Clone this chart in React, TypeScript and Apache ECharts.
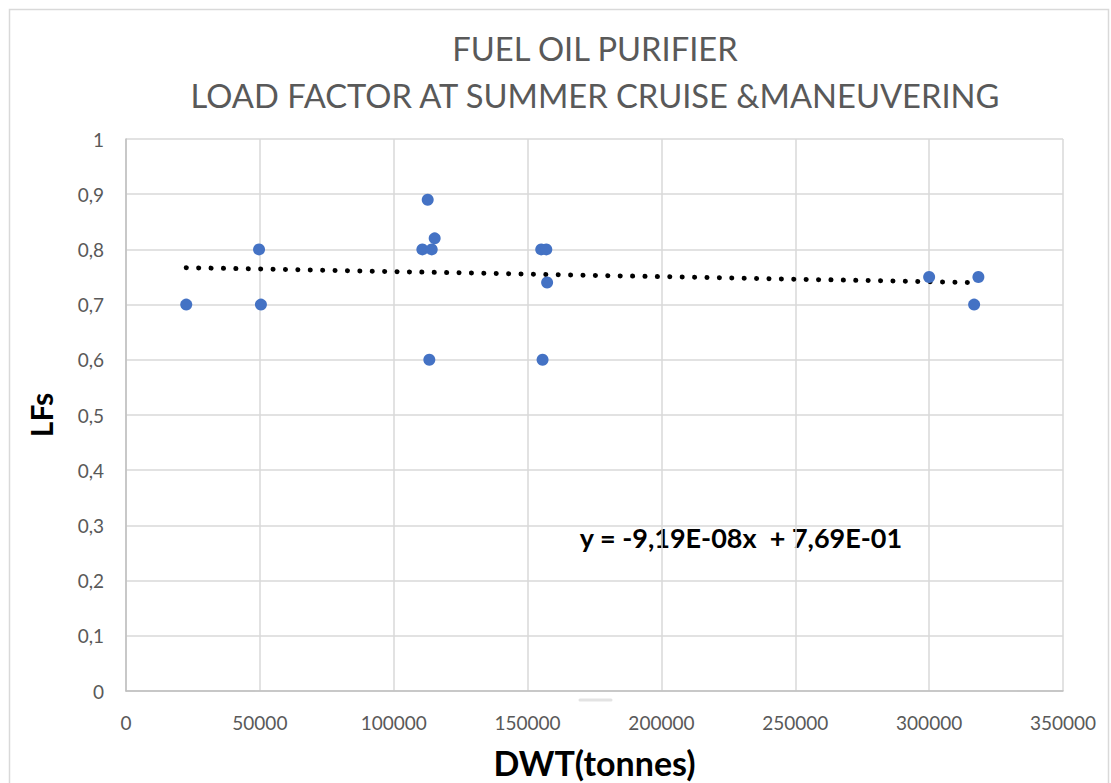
import React, { useEffect, useRef } from "react";
import * as echarts from "echarts";

const titleLines = ["FUEL OIL PURIFIER", "LOAD FACTOR AT SUMMER CRUISE &MANEUVERING"];
const xAxisName = "DWT(tonnes)";
const yAxisName = "LFs";

// DWT (tonnes) and load factor of each ship
const dwt = [22500, 49700, 50400, 110700, 112700, 113300, 114200, 115300, 155100, 155600, 157000, 157300, 300000, 316800, 318400];
const lf = [0.7, 0.8, 0.7, 0.8, 0.89, 0.6, 0.8, 0.82, 0.8, 0.6, 0.8, 0.74, 0.75, 0.7, 0.75];

const trendSlope = -9.19e-8;
const trendIntercept = 0.769;
const equationText = "y = -9,19E-08x  + 7,69E-01";

const FONT = "Lato, 'Open Sans', sans-serif";

export default function App() {
  const ref = useRef<HTMLDivElement>(null);
  useEffect(() => {
    if (!ref.current) return;
    const chart = echarts.init(ref.current, undefined, { renderer: "svg" });
    const points = dwt.map((x, i) => [x, lf[i]]);
    const xMin = Math.min(...dwt);
    const xMax = Math.max(...dwt);
    const trend = [
      [xMin, trendSlope * xMin + trendIntercept],
      [xMax, trendSlope * xMax + trendIntercept],
    ];
    chart.setOption({
      animation: false,
      backgroundColor: "#ffffff",
      textStyle: { fontFamily: FONT },
      grid: {
        left: 126,
        right: 48,
        top: 139,
        bottom: 92,
        containLabel: false,
        outerBoundsMode: "none",
      },
      xAxis: {
        type: "value",
        min: 0,
        max: 350000,
        interval: 50000,
        name: xAxisName,
        nameLocation: "middle",
        nameGap: 54,
        nameTextStyle: { fontSize: 34, fontWeight: "bold", color: "#000000", fontFamily: FONT },
        axisLine: { show: true, lineStyle: { color: "#bfbfbf", width: 1.5 } },
        axisTick: { show: false },
        axisLabel: {
          fontSize: 19,
          color: "#595959",
          margin: 22,
          fontFamily: FONT,
          formatter: (v: number) => String(v),
        },
        splitLine: { show: true, lineStyle: { color: "#d9d9d9", width: 1.5 } },
      },
      yAxis: {
        type: "value",
        min: 0,
        max: 1,
        interval: 0.1,
        name: yAxisName,
        nameLocation: "middle",
        nameRotate: 90,
        nameGap: 70,
        nameTextStyle: { fontSize: 30, fontWeight: "bold", color: "#000000", fontFamily: FONT },
        axisLine: { show: true, lineStyle: { color: "#bfbfbf", width: 1.5 } },
        axisTick: { show: false },
        axisLabel: {
          fontSize: 19,
          color: "#595959",
          margin: 22,
          fontFamily: FONT,
          formatter: (v: number) => String(Math.round(v * 10) / 10).replace(".", ","),
        },
        splitLine: { show: true, lineStyle: { color: "#d9d9d9", width: 1.5 } },
      },
      series: [
        {
          type: "line",
          data: trend,
          showSymbol: false,
          symbol: "none",
          lineStyle: { color: "#000000", width: 5, type: [0.1, 12.3], cap: "round" },
          z: 3,
        },
        {
          type: "scatter",
          data: points,
          symbol: "circle",
          symbolSize: 12,
          itemStyle: { color: "#4472C4", opacity: 1 },
          z: 4,
        },
      ],
      graphic: [
        {
          type: "rect",
          shape: { x: 9.5, y: 9.5, width: 1099, height: 820 },
          style: { fill: "none", stroke: "#d9d9d9", lineWidth: 1.5 },
          silent: true,
        },
        {
          type: "text",
          x: 595,
          y: 48,
          style: {
            text: titleLines[0],
            fontSize: 32.7,
            fontFamily: FONT,
            fill: "#595959",
            textAlign: "center",
            textVerticalAlign: "middle",
          },
        },
        {
          type: "text",
          x: 595,
          y: 95,
          style: {
            text: titleLines[1],
            fontSize: 32.7,
            fontFamily: FONT,
            fill: "#595959",
            textAlign: "center",
            textVerticalAlign: "middle",
          },
        },
        {
          type: "text",
          x: 741,
          y: 537,
          style: {
            text: equationText,
            fontSize: 27,
            fontWeight: "bold",
            fontFamily: FONT,
            fill: "#000000",
            textAlign: "center",
            textVerticalAlign: "middle",
          },
        },
        {
          type: "line",
          shape: { x1: 580, y1: 700, x2: 611, y2: 700 },
          style: { stroke: "#e3e3e3", lineWidth: 3, lineCap: "round" },
          silent: true,
        },
      ],
    });
    return () => chart.dispose();
  }, []);
  return (
    <div
      ref={ref}
      style={{ position: "fixed", left: 0, top: 0, width: 1111, height: 783 }}
    />
  );
}
